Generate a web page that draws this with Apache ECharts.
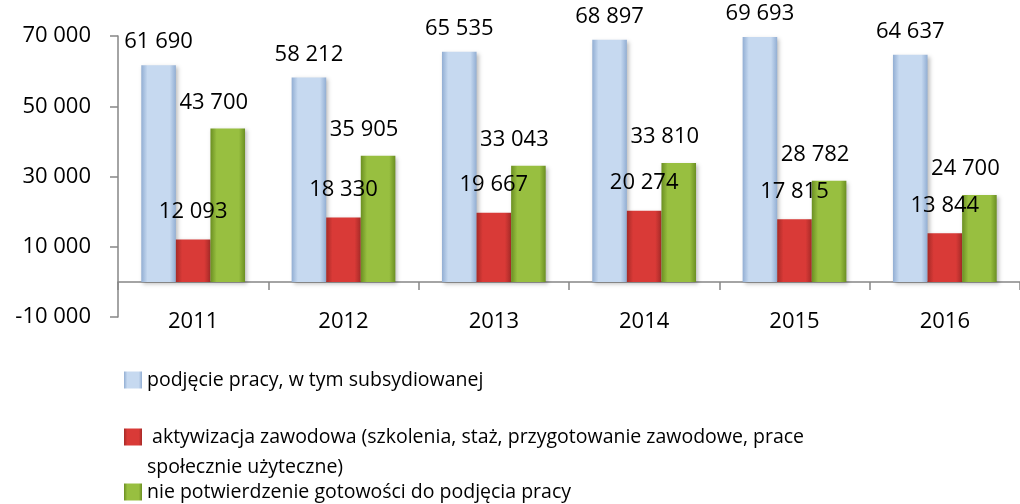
<!DOCTYPE html>
<html>
<head>
<meta charset="utf-8">
<script src="https://cdn.jsdelivr.net/npm/echarts@6/dist/echarts.min.js"></script>
<style>
  html, body { margin: 0; padding: 0; background: #fff; }
  #chart { width: 1020px; height: 504px; }
</style>
</head>
<body>
<div id="chart"></div>
<script>
  // dane
  var years = ['2011', '2012', '2013', '2014', '2015', '2016']
  var podjeciePracy = [61690, 58212, 65535, 68897, 69693, 64637]
  var aktywizacja = [12093, 18330, 19667, 20274, 17815, 13844]
  var niePotwierdzenie = [43700, 35905, 33043, 33810, 28782, 24700]
  var yTicks = [-10000, 10000, 30000, 50000, 70000]

  var names = [
    'podjęcie pracy, w tym subsydiowanej',
    ' aktywizacja zawodowa (szkolenia, staż, przygotowanie zawodowe, prace społecznie użyteczne)',
    'nie potwierdzenie gotowości do podjęcia pracy'
  ]

  var font = '"Open Sans", "Noto Sans", sans-serif'

  function fmt (v) {
    return String(v).replace(/\B(?=(\d{3})+(?!\d))/g, ' ')
  }

  function bevel (edge, mid) {
    return new echarts.graphic.LinearGradient(0, 0, 1, 0, [
      { offset: 0, color: edge },
      { offset: 0.18, color: mid },
      { offset: 0.82, color: mid },
      { offset: 1, color: edge }
    ])
  }

  function barSeries (name, data, fill, labelOpts) {
    return {
      name: name,
      type: 'bar',
      data: data,
      barGap: 0,
      barCategoryGap: '31%',
      itemStyle: {
        color: fill,
        shadowColor: 'rgba(0,0,0,0.25)',
        shadowBlur: 4,
        shadowOffsetX: 2,
        shadowOffsetY: 2
      },
      label: Object.assign({
        show: true,
        position: 'top',
        color: '#000',
        fontFamily: font,
        fontSize: 22,
        formatter: function (p) { return fmt(p.value) }
      }, labelOpts)
    }
  }

  var legendBase = {
    orient: 'vertical',
    left: 124,
    padding: 0,
    icon: 'rect',
    itemWidth: 18,
    itemHeight: 17,
    selectedMode: false
  }

  var chart = echarts.init(document.getElementById('chart'))
  chart.setOption({
    animation: false,
    grid: { left: 118, top: 36, right: -13, bottom: 187 },
    legend: [
      Object.assign({}, legendBase, {
        top: 368,
        data: [names[0]],
        textStyle: { fontFamily: font, fontSize: 19.5, color: '#000', lineHeight: 24 }
      }),
      Object.assign({}, legendBase, {
        top: 392,
        data: [names[1]],
        // pusta pierwsza linia, zeby ikona stala przy pierwszym wierszu tekstu
        formatter: function (n) { return '\n' + n.replace(' społecznie', '\nspołecznie') },
        textStyle: { fontFamily: font, fontSize: 19.5, color: '#000', lineHeight: 30 }
      }),
      Object.assign({}, legendBase, {
        top: 480,
        data: [names[2]],
        textStyle: { fontFamily: font, fontSize: 19.5, color: '#000', lineHeight: 24 }
      })
    ],
    xAxis: {
      type: 'category',
      data: years,
      axisLine: { onZero: true, lineStyle: { color: '#868686', width: 1.5 } },
      axisTick: { show: true, length: 8, lineStyle: { color: '#868686', width: 1.5 } },
      axisLabel: { margin: -6, color: '#000', fontFamily: font, fontSize: 22 }
    },
    yAxis: {
      type: 'value',
      min: -10000,
      max: 70000,
      splitLine: { show: false },
      axisLine: { show: true, lineStyle: { color: '#868686', width: 1.5 } },
      axisTick: { show: true, length: 8, customValues: yTicks, lineStyle: { color: '#868686', width: 1.5 } },
      axisLabel: {
        margin: 27,
        customValues: yTicks,
        color: '#000',
        fontFamily: font,
        fontSize: 22,
        formatter: function (v) { return fmt(v) }
      }
    },
    series: [
      barSeries(names[0], podjeciePracy, bevel('#92aed3', '#c6d9f0'), { distance: 12 }),
      barSeries(names[1], aktywizacja, bevel('#a62a27', '#d93a37'), { distance: 17 }),
      barSeries(names[2], niePotwierdzenie, bevel('#6b8f22', '#98bf40'), { distance: 15, offset: [-14, 0] })
    ]
  })
</script>
</body>
</html>
